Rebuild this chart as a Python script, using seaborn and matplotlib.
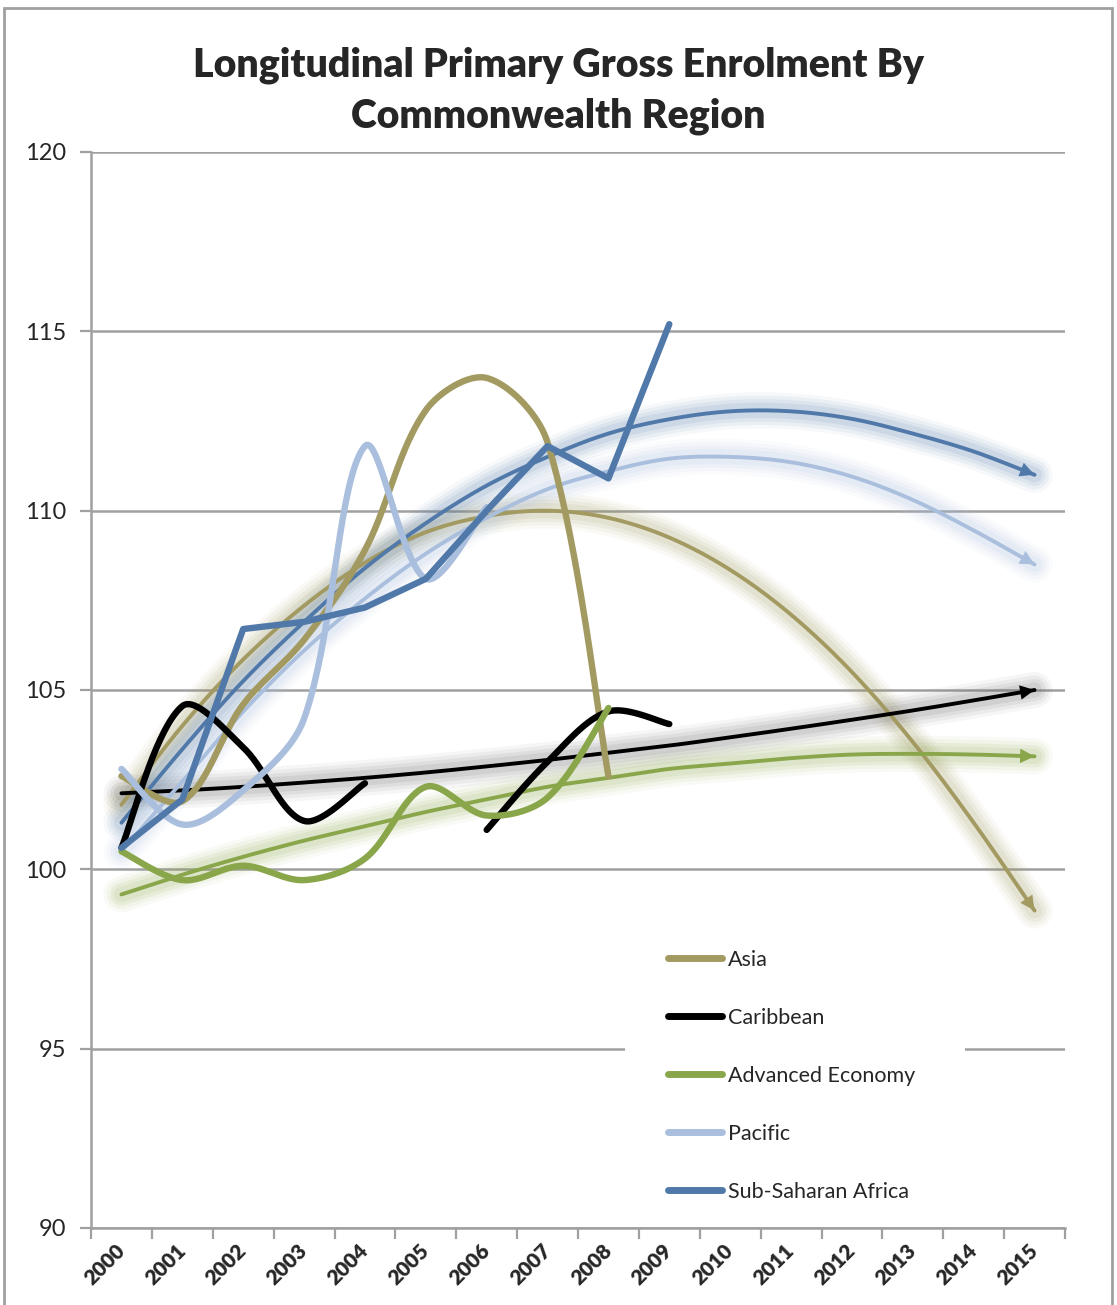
"""Longitudinal primary gross enrolment by Commonwealth region (Excel-style line chart)."""

import matplotlib

matplotlib.use("Agg")

import matplotlib.pyplot as plt
import numpy as np
import pandas as pd
import seaborn as sns
from matplotlib.lines import Line2D
from matplotlib.patches import Rectangle

YEARS = [str(y) for y in range(2000, 2016)]

# observed values, one per year from 2000 (NaN = no data)
ASIA = [102.6, 101.9, 104.6, 106.4, 108.9, 112.8, 113.7, 111.9, 102.6]
CARIBBEAN = [100.6, 104.55, 103.4, 101.35, 102.4, np.nan, 101.1, 103.0, 104.4, 104.05]
ADVANCED = [100.5, 99.7, 100.1, 99.7, 100.3, 102.3, 101.5, 102.0, 104.5]
PACIFIC = [102.8, 101.25, 102.2, 104.2, 111.8, 108.1, 110.1]
SUB_SAHARAN = [100.6, 101.95, 106.7, 106.9, 107.3, 108.1, 110.0, 111.8, 110.9, 115.2]

# trendlines as drawn in the chart (2000-2015)
ASIA_TREND = [101.8, 104.0, 105.85, 107.35, 108.55, 109.4, 109.85, 110.0, 109.8, 109.25,
              108.35, 107.1, 105.5, 103.55, 101.3, 98.85]
CARIBBEAN_TREND = [102.12, 102.2, 102.3, 102.42, 102.55, 102.7, 102.87, 103.05, 103.25, 103.45,
                   103.68, 103.92, 104.17, 104.43, 104.71, 105.0]
ADVANCED_TREND = [99.3, 99.85, 100.35, 100.8, 101.2, 101.6, 101.95, 102.3, 102.55, 102.8,
                  102.95, 103.1, 103.2, 103.22, 103.2, 103.15]
PACIFIC_TREND = [100.5, 102.45, 104.4, 106.1, 107.55, 108.8, 109.8, 110.6, 111.1, 111.45,
                 111.5, 111.35, 110.95, 110.3, 109.45, 108.5]
SUB_SAHARAN_TREND = [101.3, 103.35, 105.25, 106.9, 108.4, 109.65, 110.7, 111.5, 112.15, 112.55,
                     112.77, 112.77, 112.56, 112.15, 111.65, 111.0]

SERIES = {
    "Asia": ASIA,
    "Caribbean": CARIBBEAN,
    "Advanced Economy": ADVANCED,
    "Pacific": PACIFIC,
    "Sub-Saharan Africa": SUB_SAHARAN,
}
TRENDS = {
    "Asia": ASIA_TREND,
    "Caribbean": CARIBBEAN_TREND,
    "Advanced Economy": ADVANCED_TREND,
    "Pacific": PACIFIC_TREND,
    "Sub-Saharan Africa": SUB_SAHARAN_TREND,
}
COLORS = {
    "Asia": "#a39a62",
    "Caribbean": "#000000",
    "Advanced Economy": "#8aa64a",
    "Pacific": "#a9bfdd",
    "Sub-Saharan Africa": "#5079aa",
}
GLOW_COLORS = {
    "Asia": "#a39a62",
    "Caribbean": "#606060",
    "Advanced Economy": "#8aa64a",
    "Pacific": "#a9bfdd",
    "Sub-Saharan Africa": "#5079aa",
}
SMOOTHED = {"Asia": True, "Caribbean": True, "Advanced Economy": True, "Pacific": True, "Sub-Saharan Africa": False}

W, H = 1117, 1305
PX_X, PX_Y = 60.9, 35.85  # pixels per category / per unit, used for Excel-like smoothing


def bezier_smooth(xs, ys, steps=40):
    """Excel-like smoothing: cubic Bezier through the points, tangents scaled by chord length."""
    pts = np.column_stack([xs, ys]).astype(float)
    if len(pts) < 3:
        return pts[:, 0], pts[:, 1]
    padded = np.vstack([pts[0], pts, pts[-1]])
    scale = np.array([PX_X, PX_Y])
    t = np.linspace(0, 1, steps)[:, None]
    parts = []
    for i in range(1, len(padded) - 2):
        p0, p1, p2, p3 = padded[i - 1:i + 3]
        d01 = np.linalg.norm((p1 - p0) * scale)
        d12 = np.linalg.norm((p2 - p1) * scale)
        d23 = np.linalg.norm((p3 - p2) * scale)
        f1 = d12 / (d01 + d12) if d01 > 0 else 0.5
        f2 = d12 / (d12 + d23) if d23 > 0 else 0.5
        c1 = p1 + (p2 - p0) * f1 / 3
        c2 = p2 - (p3 - p1) * f2 / 3
        seg = (1 - t) ** 3 * p1 + 3 * (1 - t) ** 2 * t * c1 + 3 * (1 - t) * t ** 2 * c2 + t ** 3 * p2
        parts.append(seg if i == 1 else seg[1:])
    curve = np.vstack(parts)
    return curve[:, 0], curve[:, 1]


def segments(values):
    """Split a series at missing values."""
    v = np.asarray(values, dtype=float)
    out, cur = [], []
    for xi, vi in enumerate(v):
        if np.isnan(vi):
            if cur:
                out.append(cur)
            cur = []
        else:
            cur.append((xi, vi))
    if cur:
        out.append(cur)
    return [(np.array([p[0] for p in s]), np.array([p[1] for p in s])) for s in out]


sns.set_theme(style="white")
plt.rcParams["font.family"] = ["Lato", "DejaVu Sans"]

fig = plt.figure(figsize=(W / 100, H / 100), dpi=100)
ax = fig.add_axes([91 / W, 1 - 1228 / H, (1065 - 91) / W, (1228 - 152) / H])

# white patch behind the legend hides the gridline there
ax.add_patch(Rectangle(((625 - 91) / 974, (1228 - 1215) / 1076), 340 / 974, 300 / 1076,
                       transform=ax.transAxes, facecolor="white", edgecolor="none", zorder=0.9))

# trendlines with glow and arrow
for name, trend in TRENDS.items():
    tx, ty = bezier_smooth(np.arange(len(trend)), trend)
    for lw, a in [(26, 0.05), (21, 0.07), (16, 0.09), (11, 0.11)]:
        ax.plot(tx, ty, color=GLOW_COLORS[name], lw=lw, alpha=a, solid_capstyle="round", zorder=1)
    sns.lineplot(x=tx, y=ty, ax=ax, color=COLORS[name], lw=2.8, zorder=2, sort=False)
    ax.annotate(
        "",
        xy=(tx[-1], ty[-1]),
        xytext=(tx[-6], ty[-6]),
        arrowprops=dict(arrowstyle="-|>", color=COLORS[name], lw=0, mutation_scale=26, shrinkA=0, shrinkB=0),
        zorder=2,
    )

# data series
for name, values in SERIES.items():
    for xs, ys in segments(values):
        if SMOOTHED[name]:
            xs, ys = bezier_smooth(xs, ys)
        frame = pd.DataFrame({"x": xs, "y": ys})
        sns.lineplot(data=frame, x="x", y="y", ax=ax, color=COLORS[name], lw=4.6, sort=False, zorder=3)

ax.set_xlim(-0.5, len(YEARS) - 0.5)
ax.set_ylim(90, 120)
ax.set_yticks(np.arange(90, 121, 5))
ax.set_yticklabels([str(v) for v in range(90, 121, 5)], fontsize=17)
ax.set_xticks(np.arange(-0.5, len(YEARS), 1))
ax.set_xticklabels([])
ax.set_xticks(np.arange(len(YEARS)), minor=True)
ax.set_xticklabels(YEARS, minor=True, rotation=45, ha="right", va="center", rotation_mode="anchor",
                   fontsize=15, fontweight="heavy")
ax.tick_params(axis="x", which="minor", length=0, pad=14)
ax.tick_params(axis="x", which="major", length=8, width=1.6, color="#a0a0a0", direction="out", bottom=True)
ax.tick_params(axis="y", length=8, width=1.6, color="#a0a0a0", direction="out", left=True, pad=10)
ax.set_xlabel("")
ax.set_ylabel("")
ax.yaxis.grid(True, color="#a0a0a0", lw=1.8)
ax.xaxis.grid(False)
ax.set_axisbelow(True)
for side in ["top", "right"]:
    ax.spines[side].set_visible(False)
for side in ["left", "bottom"]:
    ax.spines[side].set_color("#a0a0a0")
    ax.spines[side].set_linewidth(1.8)

handles = [Line2D([0], [0], color=COLORS[n], lw=5, solid_capstyle="round") for n in SERIES]
leg = ax.legend(
    handles, list(SERIES), loc="upper left", bbox_to_anchor=((668 - 91) / 974, 1 - (950 - 152) / 1076),
    frameon=False, fontsize=15.5, handlelength=2.5, handletextpad=0.28, labelspacing=1.76,
    borderpad=0, borderaxespad=0,
)
leg.set_zorder(5)

fig.text(0.5, 1 - 91 / H, "Longitudinal Primary Gross Enrolment By\nCommonwealth Region",
         ha="center", va="center", fontsize=28.3, fontweight="heavy", linespacing=1.45)
fig.add_artist(Rectangle((4 / W, -0.01), (1112 - 4) / W, 1.01 - 8 / H, transform=fig.transFigure,
                         fill=False, edgecolor="#a0a0a0", lw=2))

fig.savefig("out.png", dpi=100)
